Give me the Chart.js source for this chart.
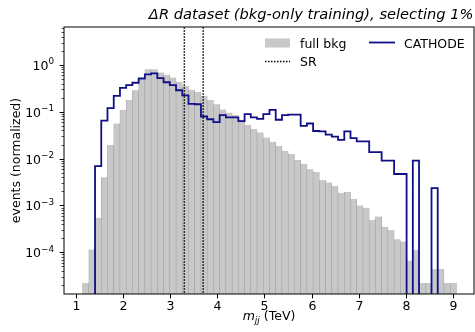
<!DOCTYPE html>
<html>
<head>
<meta charset="utf-8">
<script src="https://cdn.jsdelivr.net/npm/chart.js@4.4.1/dist/chart.umd.min.js"></script>
<style>
  html, body { margin: 0; padding: 0; background: #fff; }
  #c { display: block; }
</style>
</head>
<body>
<canvas id="c" width="475" height="332"></canvas>
<script>
//-----------------------------------------
// DATA
//-----------------------------------------
// histogram bin edges (TeV), 60 bins
const binEdges = [
  1.139, 1.271, 1.404, 1.536, 1.668, 1.801, 1.933, 2.065, 2.197, 2.330,
  2.462, 2.594, 2.727, 2.859, 2.991, 3.124, 3.256, 3.388, 3.520, 3.653,
  3.785, 3.917, 4.050, 4.182, 4.314, 4.447, 4.579, 4.711, 4.843, 4.976,
  5.108, 5.240, 5.373, 5.505, 5.637, 5.770, 5.902, 6.034, 6.166, 6.299,
  6.431, 6.563, 6.696, 6.828, 6.960, 7.093, 7.225, 7.357, 7.489, 7.622,
  7.754, 7.886, 8.019, 8.151, 8.283, 8.416, 8.548, 8.680, 8.812, 8.945,
  9.077
];

// full bkg (normalized)
const bkgVals = [
  2.2e-5, 1.15e-4, 5.5e-4, 3.98e-3, 0.0195, 0.0562, 0.110, 0.178, 0.288, 0.49,
  0.81, 0.81, 0.69, 0.62, 0.54, 0.44, 0.355, 0.295, 0.263, 0.219,
  0.178, 0.145, 0.112, 0.0955, 0.0851, 0.0676, 0.0525, 0.0427, 0.0363, 0.0282,
  0.0229, 0.0186, 0.0148, 0.0126, 0.0093, 0.0078, 0.0059, 0.0052, 0.0035, 0.0031,
  0.0026, 0.00186, 0.00195, 0.00138, 0.0010, 0.00089, 0.00049, 0.00058, 0.00035, 0.00030,
  0.00019, 0.00017, 6.6e-5, 1.12e-4, 2.2e-5, 2.2e-5, 4.4e-5, 4.4e-5, 2.2e-5, 2.2e-5
];

// CATHODE selection (normalized), 0 = empty bin
const cathodeVals = [
  0, 0, 0.0069, 0.0646, 0.120, 0.219, 0.324, 0.372, 0.417, 0.513,
  0.631, 0.661, 0.525, 0.427, 0.372, 0.288, 0.224, 0.148, 0.145, 0.0794,
  0.0692, 0.0603, 0.0851, 0.0759, 0.0759, 0.0631, 0.0891, 0.0759, 0.0708, 0.0891,
  0.110, 0.0676, 0.0851, 0.0871, 0.0871, 0.0501, 0.0562, 0.0389, 0.0380, 0.0324,
  0.0295, 0.0251, 0.0380, 0.0275, 0.0234, 0.0234, 0.0138, 0.0138, 0.0091, 0.0091,
  0.0047, 0.0047, 0, 0.0091, 0, 0, 0.00234, 0, 0, 0
];

// signal region bounds (TeV)
const srBounds = [3.3, 3.7];

const xTicks = [1, 2, 3, 4, 5, 6, 7, 8, 9];
const yTickExps = [-4, -3, -2, -1, 0];

const xMin = 0.745, xMax = 9.45;
const yMin = Math.pow(10, -4.89), yMax = Math.pow(10, 0.81);

const FONT = '"DejaVu Sans", "Liberation Sans", sans-serif';
const GRAY = '#c8c8c8';
const NAVY = '#0f0f88';
const TITLE = '\u0394R dataset (bkg-only training), selecting 1%';

//-----------------------------------------
// BUILD DATASETS
//-----------------------------------------
const floorVal = 1e-8;

const bkgBars = bkgVals.map((v, i) => ({ x: (binEdges[i] + binEdges[i + 1]) / 2, y: v }));

// step outline
const cathodePath = [{ x: binEdges[0], y: floorVal }];
cathodeVals.forEach((v, i) => {
  const y = v > 0 ? v : floorVal;
  cathodePath.push({ x: binEdges[i], y: y }, { x: binEdges[i + 1], y: y });
});
cathodePath.push({ x: binEdges[binEdges.length - 1], y: floorVal });

const srSets = srBounds.map(b => ({
  type: 'line',
  data: [{ x: b, y: floorVal }, { x: b, y: 1e3 }],
  borderColor: '#000',
  borderWidth: 1.5,
  borderDash: [1.5, 1.5],
  pointRadius: 0,
  fill: false,
  order: 1
}));

//-----------------------------------------
// AXES / TEXT DECORATION
//-----------------------------------------
const decor = {
  id: 'decor',
  afterDraw(chart) {
    const ctx = chart.ctx;
    const ca = chart.chartArea;
    const xs = chart.scales.x, ys = chart.scales.y;
    ctx.save();
    ctx.fillStyle = '#000';
    ctx.strokeStyle = '#000';

    // spines
    ctx.lineWidth = 1;
    ctx.strokeRect(ca.left, ca.top, ca.right - ca.left, ca.bottom - ca.top);

    // x ticks
    ctx.font = '12.5px ' + FONT;
    ctx.textAlign = 'center';
    ctx.textBaseline = 'alphabetic';
    xTicks.forEach(v => {
      const px = Math.round(xs.getPixelForValue(v)) + 0.5;
      ctx.beginPath();
      ctx.moveTo(px, ca.bottom);
      ctx.lineTo(px, ca.bottom + 4.4);
      ctx.stroke();
      ctx.fillText(String(v), px, ca.bottom + 15.5);
    });

    // y ticks (major + minor)
    for (let e = -5; e <= 0; e++) {
      for (let m = 1; m <= 9; m++) {
        const v = m * Math.pow(10, e);
        if (v < yMin || v > yMax) continue;
        const py = Math.round(ys.getPixelForValue(v)) + 0.5;
        const len = m === 1 ? 4.4 : 2.5;
        ctx.lineWidth = m === 1 ? 1 : 0.7;
        ctx.beginPath();
        ctx.moveTo(ca.left - len, py);
        ctx.lineTo(ca.left, py);
        ctx.stroke();
      }
    }
    ctx.lineWidth = 1;

    // y tick labels 10^e
    yTickExps.forEach(e => {
      const py = ys.getPixelForValue(Math.pow(10, e));
      const sup = e < 0 ? '\u2212' + Math.abs(e) : String(e);
      ctx.font = '8.8px ' + FONT;
      const w2 = ctx.measureText(sup).width;
      ctx.font = '12.5px ' + FONT;
      const w1 = ctx.measureText('10').width;
      const right = ca.left - 10;
      ctx.textAlign = 'left';
      ctx.fillText('10', right - w2 - w1, py + 5);
      ctx.font = '8.8px ' + FONT;
      ctx.fillText(sup, right - w2, py - 0.5);
    });

    // y label
    ctx.save();
    ctx.font = '12.5px ' + FONT;
    ctx.translate(20, (ca.top + ca.bottom) / 2);
    ctx.rotate(-Math.PI / 2);
    ctx.textAlign = 'center';
    ctx.fillText('events (normalized)', 0, 0);
    ctx.restore();

    // x label: m_jj (TeV)
    const cx = (ca.left + ca.right) / 2;
    ctx.font = 'italic 12.5px ' + FONT;
    const wm = ctx.measureText('m').width;
    ctx.font = 'italic 9px ' + FONT;
    const wj = ctx.measureText('jj').width;
    ctx.font = '12.5px ' + FONT;
    const wt = ctx.measureText(' (TeV)').width;
    let sx = cx - (wm + wj + wt) / 2;
    ctx.textAlign = 'left';
    ctx.font = 'italic 12.5px ' + FONT;
    ctx.fillText('m', sx, 319.5);
    sx += wm;
    ctx.font = 'italic 9px ' + FONT;
    ctx.fillText('jj', sx, 322.5);
    sx += wj;
    ctx.font = '12.5px ' + FONT;
    ctx.fillText(' (TeV)', sx, 319.5);

    // title, sized to the reference width
    ctx.font = 'italic 14px ' + FONT;
    const tw = ctx.measureText(TITLE).width;
    const tSize = 14 * 325 / tw;
    ctx.font = 'italic ' + tSize.toFixed(2) + 'px ' + FONT;
    ctx.textAlign = 'right';
    ctx.fillText(TITLE, ca.right - 0.5, 18.5);

    // legend
    ctx.textAlign = 'left';
    ctx.font = '12.5px ' + FONT;
    ctx.fillStyle = GRAY;
    ctx.fillRect(265, 38.5, 25, 9);
    ctx.fillStyle = '#000';
    ctx.fillText('full bkg', 300, 47.5);

    ctx.setLineDash([1.5, 1.5]);
    ctx.lineWidth = 1.5;
    ctx.beginPath();
    ctx.moveTo(265, 61.5);
    ctx.lineTo(290, 61.5);
    ctx.stroke();
    ctx.setLineDash([]);
    ctx.fillText('SR', 300, 66);

    ctx.strokeStyle = NAVY;
    ctx.lineWidth = 1.8;
    ctx.beginPath();
    ctx.moveTo(369, 42.5);
    ctx.lineTo(395, 42.5);
    ctx.stroke();
    ctx.fillText('CATHODE', 404, 47.5);

    ctx.restore();
  }
};

//-----------------------------------------
// CHART
//-----------------------------------------
new Chart(document.getElementById('c'), {
  type: 'bar',
  data: {
    datasets: [
      {
        label: 'full bkg',
        data: bkgBars,
        backgroundColor: GRAY,
        borderColor: '#a2a2a2',
        borderWidth: { left: 0.6, right: 0.6, top: 0, bottom: 0 },
        borderSkipped: false,
        barPercentage: 1,
        categoryPercentage: 1,
        order: 3
      },
      {
        type: 'line',
        label: 'CATHODE',
        data: cathodePath,
        borderColor: NAVY,
        borderWidth: 1.8,
        pointRadius: 0,
        tension: 0,
        fill: false,
        order: 2
      },
      ...srSets
    ]
  },
  options: {
    responsive: false,
    animation: false,
    devicePixelRatio: 1,
    layout: { padding: { left: 64, right: 1, top: 27, bottom: 38 } },
    plugins: { legend: { display: false }, tooltip: { enabled: false } },
    scales: {
      x: { type: 'linear', min: xMin, max: xMax, offset: false, display: false },
      y: { type: 'logarithmic', min: yMin, max: yMax, display: false }
    }
  },
  plugins: [decor]
});
</script>
</body>
</html>
